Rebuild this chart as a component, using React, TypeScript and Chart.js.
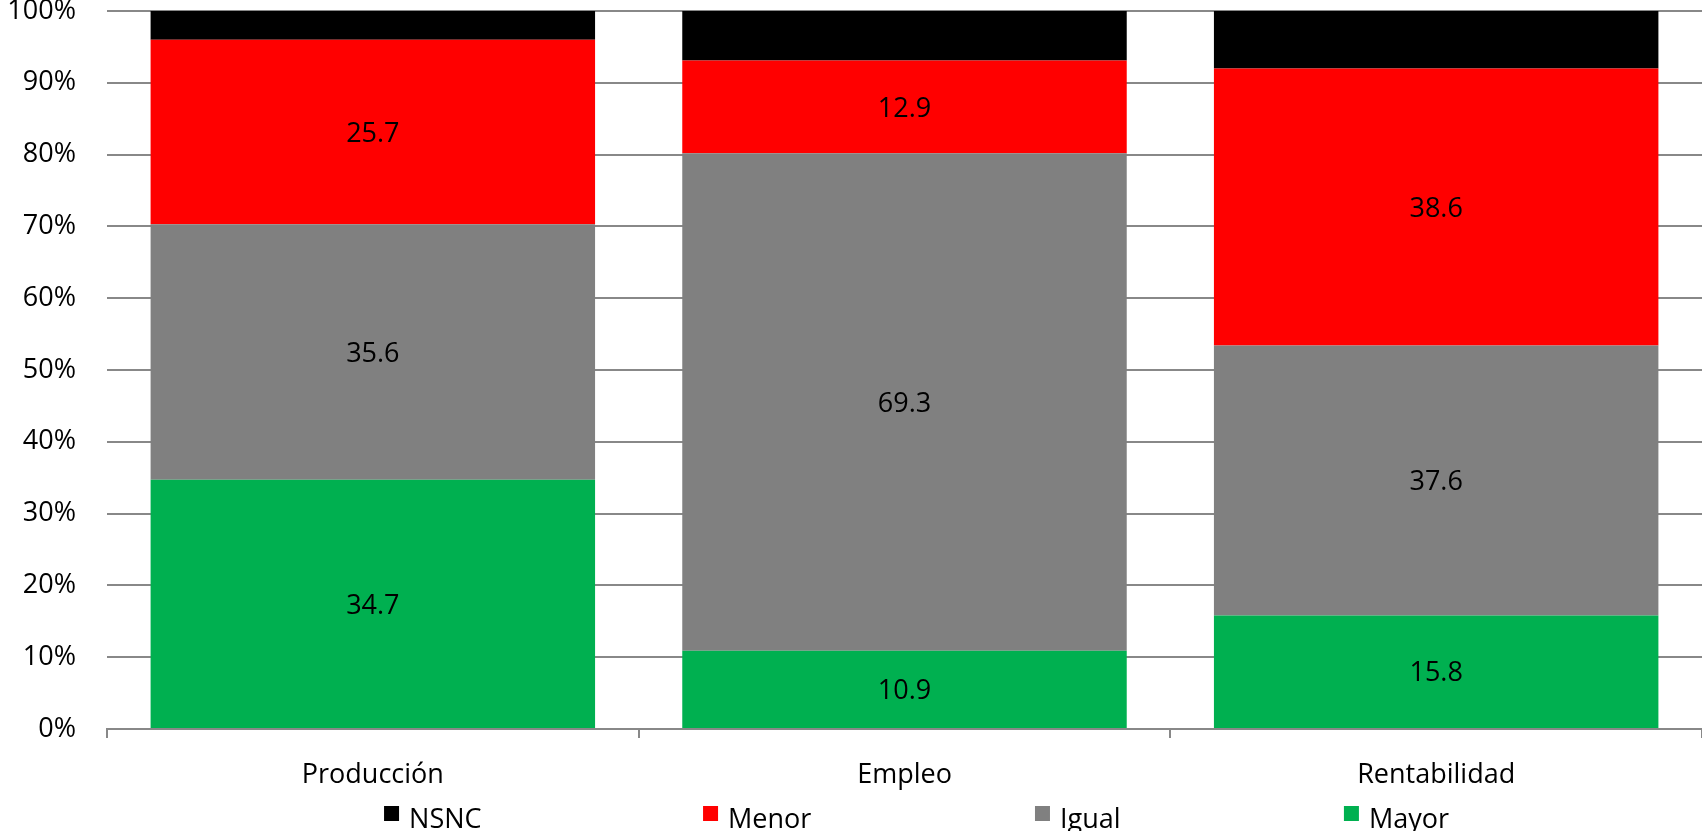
import React, { useEffect, useRef } from "react";
import { Chart, registerables } from "chart.js";

Chart.register(...registerables);

const categories = ["Producción", "Empleo", "Rentabilidad"];
const mayor = [34.7, 10.9, 15.8];
const igual = [35.6, 69.3, 37.6];
const menor = [25.7, 12.9, 38.6];
const nsnc = [4.0, 6.9, 8.0];
const yTicks = [0, 10, 20, 30, 40, 50, 60, 70, 80, 90, 100];

const FONT = "'Open Sans', 'Liberation Sans', sans-serif";
const FONT_SIZE = 27;
const GRID = "#888888";

const dataLabelPlugin = {
  id: "dataLabels",
  afterDatasetsDraw(chart: any) {
    const ctx = chart.ctx;
    chart.data.datasets.forEach((ds: any, di: number) => {
      if (ds.label === "NSNC") return;
      const meta = chart.getDatasetMeta(di);
      meta.data.forEach((bar: any, i: number) => {
        const v = ds.data[i];
        const { x, y, base } = bar.getProps(["x", "y", "base"], true);
        ctx.save();
        ctx.font = `${FONT_SIZE}px ${FONT}`;
        ctx.fillStyle = "#000000";
        ctx.textAlign = "center";
        ctx.textBaseline = "middle";
        ctx.fillText(v.toFixed(1), x, (y + base) / 2 + 2);
        ctx.restore();
      });
    });
  },
};

const legendSlots = [0.1737, 0.3737, 0.5818, 0.7755];

const customLegendPlugin = {
  id: "customLegend",
  afterDraw(chart: any) {
    const ctx = chart.ctx;
    const area = chart.chartArea;
    const w = area.right - area.left;
    const items = [...chart.data.datasets].reverse();
    const H = chart.height;
    items.forEach((ds: any, i: number) => {
      const x = area.left + w * legendSlots[i];
      ctx.save();
      ctx.fillStyle = ds.backgroundColor;
      ctx.fillRect(x, H - 25, 15, 15);
      ctx.font = `${FONT_SIZE}px ${FONT}`;
      ctx.fillStyle = "#000000";
      ctx.textAlign = "left";
      ctx.textBaseline = "alphabetic";
      ctx.fillText(ds.label, x + 25, H - 3);
      ctx.restore();
    });
  },
};

export default function App() {
  const canvasRef = useRef<HTMLCanvasElement | null>(null);

  useEffect(() => {
    document.body.style.margin = "0";
    document.body.style.overflow = "hidden";
    const canvas = canvasRef.current;
    if (!canvas) return;
    const chart = new Chart(canvas, {
      type: "bar",
      data: {
        labels: categories,
        datasets: [
          { label: "Mayor", data: mayor, backgroundColor: "#00B050" },
          { label: "Igual", data: igual, backgroundColor: "#808080" },
          { label: "Menor", data: menor, backgroundColor: "#FF0000" },
          { label: "NSNC", data: nsnc, backgroundColor: "#000000" },
        ],
      },
      options: {
        animation: false,
        responsive: true,
        maintainAspectRatio: false,
        layout: { padding: { top: 11, left: 0, right: 0, bottom: 0 } },
        datasets: {
          bar: { barPercentage: 0.836, categoryPercentage: 1.0 },
        },
        plugins: {
          legend: { display: false },
          tooltip: { enabled: false },
        },
        scales: {
          x: {
            stacked: true,
            offset: true,
            grid: {
              display: true,
              drawOnChartArea: false,
              drawTicks: true,
              tickLength: 9,
              color: GRID,
              lineWidth: 2,
              offset: true,
            },
            border: { display: true, color: GRID, width: 2 },
            ticks: {
              padding: 21,
              color: "#000000",
              font: { family: FONT, size: FONT_SIZE },
              maxRotation: 0,
            },
            afterFit(scale: any) {
              scale.height = 102;
              scale.paddingLeft = 0;
              scale.paddingRight = 0;
            },
          },
          y: {
            stacked: true,
            min: 0,
            max: 100,
            afterBuildTicks(scale: any) {
              scale.ticks = yTicks.map((v) => ({ value: v }));
            },
            grid: {
              display: true,
              drawTicks: false,
              color: GRID,
              lineWidth: 2,
            },
            border: { display: false },
            ticks: {
              padding: 31,
              color: "#000000",
              font: { family: FONT, size: FONT_SIZE },
              callback: (v: any) => `${v}%`,
            },
            afterFit(scale: any) {
              scale.width = 107;
              scale.paddingTop = 0;
              scale.paddingBottom = 0;
            },
          },
        },
      },
      plugins: [dataLabelPlugin, customLegendPlugin],
    });
    return () => chart.destroy();
  }, []);

  return (
    <div style={{ width: "1702px", height: "831px", position: "relative" }}>
      <canvas ref={canvasRef} />
    </div>
  );
}
